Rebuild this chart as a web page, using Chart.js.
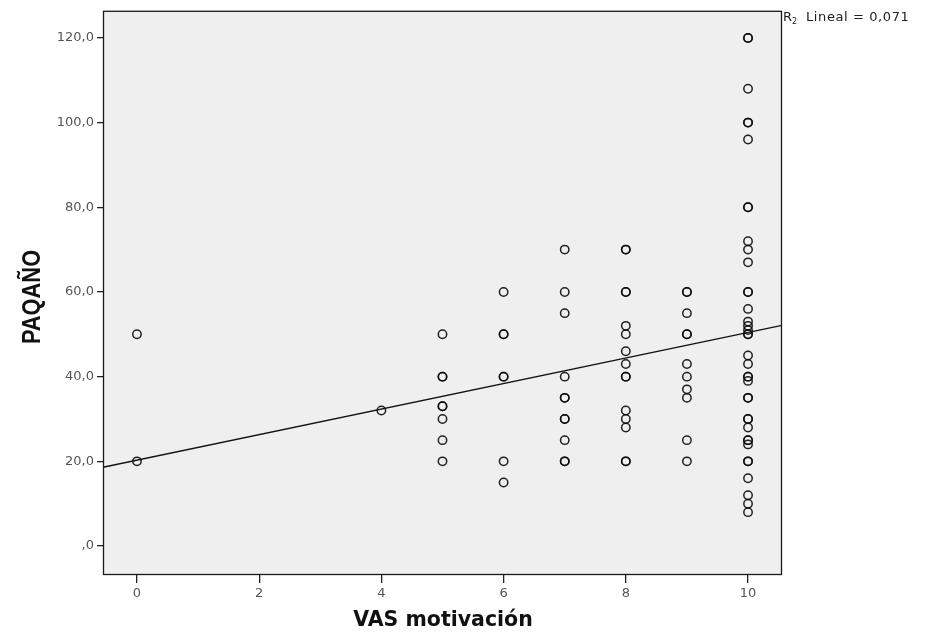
<!DOCTYPE html>
<html>
<head>
<meta charset="utf-8">
<script src="https://cdn.jsdelivr.net/npm/chart.js@4"></script>
<style>
  html, body { margin: 0; padding: 0; background: #ffffff; }
  #wrap { width: 930px; height: 633px; position: relative; }
</style>
</head>
<body>
<div id="wrap"><canvas id="chart"></canvas></div>
<script>
// PAQAÑO values for each VAS motivación score (ties repeated)
const vas0  = [50, 20];
const vas4  = [32];
const vas5  = [50, 40, 40, 33, 33, 30, 25, 20];
const vas6  = [60, 50, 50, 40, 40, 20, 15];
const vas7  = [70, 60, 55, 40, 35, 35, 30, 30, 25, 20, 20];
const vas8  = [70, 70, 60, 60, 52, 50, 46, 43, 40, 40, 32, 30, 28, 20, 20];
const vas9  = [60, 60, 55, 50, 50, 43, 40, 37, 35, 25, 20];
const vas10 = [120, 120, 108, 100, 100, 96, 80, 80, 72, 70, 67, 60, 60, 56, 53, 52, 51, 50, 50,
               45, 43, 40, 40, 39, 35, 35, 30, 30, 28, 25, 25, 24, 20, 20, 16, 12, 10, 8];

const vasScores = [0, 4, 5, 6, 7, 8, 9, 10];
const paqByScore = [vas0, vas4, vas5, vas6, vas7, vas8, vas9, vas10];

// linear fit line, read at the two edges of the plot
const fitX = [-0.556, 10.556];
const fitY = [18.6, 52.1];

const xTicks = [0, 2, 4, 6, 8, 10];
const yTicks = [0, 20, 40, 60, 80, 100, 120];
const yTitle = 'PAQA\u00D1O';
const xTitle = 'VAS motivaci\u00F3n';
const r2Text = 'Lineal = 0,071';

const points = [];
vasScores.forEach(function (s, i) {
  paqByScore[i].forEach(function (v) { points.push({ x: s, y: v }); });
});
const fitLine = fitX.map(function (x, i) { return { x: x, y: fitY[i] }; });

// grey plot background, frame and the extra texts
const framePlugin = {
  id: 'frame',
  beforeDatasetsDraw(chart) {
    const a = chart.chartArea, c = chart.ctx;
    c.save();
    c.fillStyle = '#efefef';
    c.fillRect(a.left, a.top, a.right - a.left, a.bottom - a.top);
    c.restore();
  },
  afterDraw(chart) {
    const a = chart.chartArea, c = chart.ctx;
    c.save();
    c.strokeStyle = '#1a1a1a';
    c.lineWidth = 1.3;
    c.strokeRect(a.left + 0.5, a.top + 0.5, a.right - a.left - 1, a.bottom - a.top - 1);

    // axis titles
    c.fillStyle = '#111';
    c.textAlign = 'center';
    c.textBaseline = 'middle';
    c.font = 'bold 20.5px "DejaVu Sans", sans-serif';
    c.fillText(xTitle, 443, 621);
    c.save();
    c.translate(33, 297);
    c.rotate(-Math.PI / 2);
    c.scale(0.84, 1);
    c.font = 'bold 26px "Liberation Sans", Arial, sans-serif';
    c.fillText(yTitle, 0, 0);
    c.restore();

    // R2 label
    c.textAlign = 'left';
    c.textBaseline = 'alphabetic';
    c.fillStyle = '#222';
    c.font = '13px "DejaVu Sans", sans-serif';
    c.fillText('R', 783, 21);
    c.font = '8px "DejaVu Sans", sans-serif';
    c.fillText('2', 792, 24);
    c.font = '13px "DejaVu Sans", sans-serif';
    c.letterSpacing = '0.6px';
    c.fillText(r2Text, 806, 21);
    c.restore();
  }
};

new Chart(document.getElementById('chart'), {
  type: 'scatter',
  data: {
    datasets: [
      {
        data: points,
        pointRadius: 4.2,
        pointHoverRadius: 4.2,
        pointBorderWidth: 1.5,
        pointBorderColor: 'rgba(10,10,10,0.9)',
        pointBackgroundColor: 'rgba(0,0,0,0)'
      },
      {
        type: 'line',
        data: fitLine,
        borderColor: '#111',
        borderWidth: 1.3,
        pointRadius: 0,
        fill: false
      }
    ]
  },
  options: {
    responsive: true,
    maintainAspectRatio: false,
    animation: false,
    layout: { padding: { top: 10, right: 148, left: 0, bottom: 0 } },
    plugins: { legend: { display: false }, tooltip: { enabled: false } },
    scales: {
      x: {
        type: 'linear',
        min: -0.556,
        max: 10.556,
        afterFit(scale) { scale.height = 58; },
        afterBuildTicks(scale) { scale.ticks = xTicks.map(function (v) { return { value: v }; }); },
        grid: { drawOnChartArea: false, drawTicks: true, tickLength: 8, color: '#222', lineWidth: 1.3 },
        border: { display: false },
        ticks: {
          padding: 3,
          color: '#555',
          font: { family: '"DejaVu Sans", sans-serif', size: 13 },
          callback: function (v) { return String(v); }
        }
      },
      y: {
        type: 'linear',
        min: -6.84,
        max: 126.4,
        afterFit(scale) { scale.width = 103; },
        afterBuildTicks(scale) { scale.ticks = yTicks.map(function (v) { return { value: v }; }); },
        grid: { drawOnChartArea: false, drawTicks: true, tickLength: 6, color: '#222', lineWidth: 1.3 },
        border: { display: false },
        ticks: {
          padding: 3,
          color: '#555',
          font: { family: '"DejaVu Sans", sans-serif', size: 13 },
          callback: function (v) { return v === 0 ? ',0' : v.toFixed(1).replace('.', ','); }
        }
      }
    }
  },
  plugins: [framePlugin]
});
</script>
</body>
</html>
